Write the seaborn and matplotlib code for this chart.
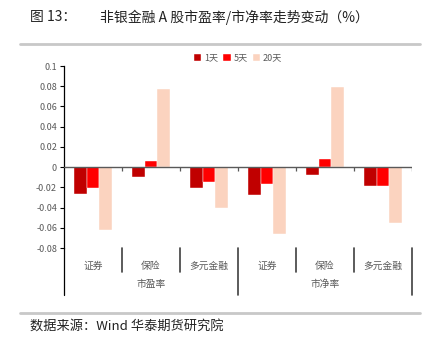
#!/usr/bin/env python3
# -*- coding: utf-8 -*-

import numpy as np
import pandas as pd
import matplotlib
matplotlib.use("Agg")
import matplotlib.pyplot as plt
import matplotlib.transforms as mtransforms
from matplotlib.lines import Line2D
import seaborn as sns

# ---- data ----
groups = ["市盈率", "市盈率", "市盈率", "市净率", "市净率", "市净率"]
sectors = ["证券", "保险", "多元金融", "证券", "保险", "多元金融"]
periods = ["1天", "5天", "20天"]
chg_1d = [-0.027, -0.010, -0.021, -0.028, -0.0075, -0.0185]
chg_5d = [-0.021, 0.0065, -0.015, -0.017, 0.0085, -0.0185]
chg_20d = [-0.062, 0.077, -0.040, -0.066, 0.079, -0.055]
yticks = [-0.08, -0.06, -0.04, -0.02, 0, 0.02, 0.04, 0.06, 0.08, 0.1]
ytick_labels = ["-0.08", "-0.06", "-0.04", "-0.02", "0", "0.02", "0.04", "0.06", "0.08", "0.1"]

colors = ["#C00000", "#FF0000", "#FBD3BF"]
label_gray = "#595959"

sns.set_style("white")
plt.rcParams["font.family"] = ["Noto Sans CJK SC", "DejaVu Sans"]
plt.rcParams["axes.unicode_minus"] = False

keys = [f"{g}-{s}" for g, s in zip(groups, sectors)]
rows = []
for vals, p in zip([chg_1d, chg_5d, chg_20d], periods):
    for k, v in zip(keys, vals):
        rows.append({"cat": k, "period": p, "value": v})
df = pd.DataFrame(rows)

W, H = 434, 352
fig = plt.figure(figsize=(W / 100, H / 100), dpi=100)
ax = fig.add_axes([64 / W, 1 - 248 / H, (412 - 64) / W, (248 - 66) / H])

sns.barplot(
    data=df, x="cat", y="value", hue="period",
    order=keys, hue_order=periods, palette=colors, saturation=1,
    width=0.66, edgecolor="white", linewidth=0.3,
    errorbar=None, ax=ax,
)

ax.set_xlim(-0.5, len(keys) - 0.5)
ax.set_ylim(-0.08, 0.1)
ax.set_yticks(yticks)
ax.set_yticklabels(ytick_labels, fontsize=6.5, color=label_gray)
ax.tick_params(axis="y", direction="out", length=3, width=0.8, color="black", pad=2, left=True)
ax.set_xlabel("")
ax.set_ylabel("")

for side in ["top", "right", "bottom"]:
    ax.spines[side].set_visible(False)
ax.spines["left"].set_color("black")
ax.spines["left"].set_linewidth(0.9)

# zero line with small ticks at category boundaries
ax.axhline(0, color="#595959", lw=1.0, zorder=3)
bounds = np.arange(len(keys) + 1) - 0.5
ax.vlines(bounds[1:], -0.004, 0, color="#595959", lw=0.9, zorder=3)

# multi-level category axis
ax.set_xticks(range(len(keys)))
ax.set_xticklabels(sectors, fontsize=7, color=label_gray)
ax.tick_params(axis="x", length=0, pad=9)

trans = mtransforms.blended_transform_factory(ax.transData, ax.transAxes)
for b in bounds:
    long_line = b in (bounds[0], bounds[3], bounds[-1])
    y1 = -0.258 if long_line else -0.132
    ax.plot([b, b], [0, y1], transform=trans, color="black" if b == bounds[0] else "#404040",
            lw=0.9 if b == bounds[0] else 1.2, clip_on=False)
ax.text(1, -0.2, "市盈率", transform=trans, ha="center", va="center", fontsize=7, color=label_gray)
ax.text(4, -0.2, "市净率", transform=trans, ha="center", va="center", fontsize=7, color=label_gray)

leg = ax.legend(
    loc="center", bbox_to_anchor=(0.5, 1.045), ncol=3, frameon=False,
    fontsize=6.5, handlelength=0.8, handleheight=0.8, handletextpad=0.3,
    columnspacing=0.6, borderaxespad=0,
)
for t in leg.get_texts():
    t.set_color(label_gray)

# title, separators and source
fig.text(30 / W, 1 - 17 / H, "图 13：", fontsize=10, ha="left", va="center", color="#222222")
fig.text(100 / W, 1 - 17 / H, "非银金融 A 股市盈率/市净率走势变动（%）", fontsize=10,
         ha="left", va="center", color="#222222")
fig.add_artist(Line2D([20 / W, 420 / W], [1 - 44 / H, 1 - 44 / H], color="#C8C8C8", lw=2.0))
fig.add_artist(Line2D([20 / W, 420 / W], [1 - 313 / H, 1 - 313 / H], color="#C8C8C8", lw=2.0))
fig.text(30 / W, 1 - 327 / H, "数据来源：Wind 华泰期货研究院", fontsize=9.5, ha="left", va="center",
         color="#222222")

fig.savefig("out.png", dpi=100)
